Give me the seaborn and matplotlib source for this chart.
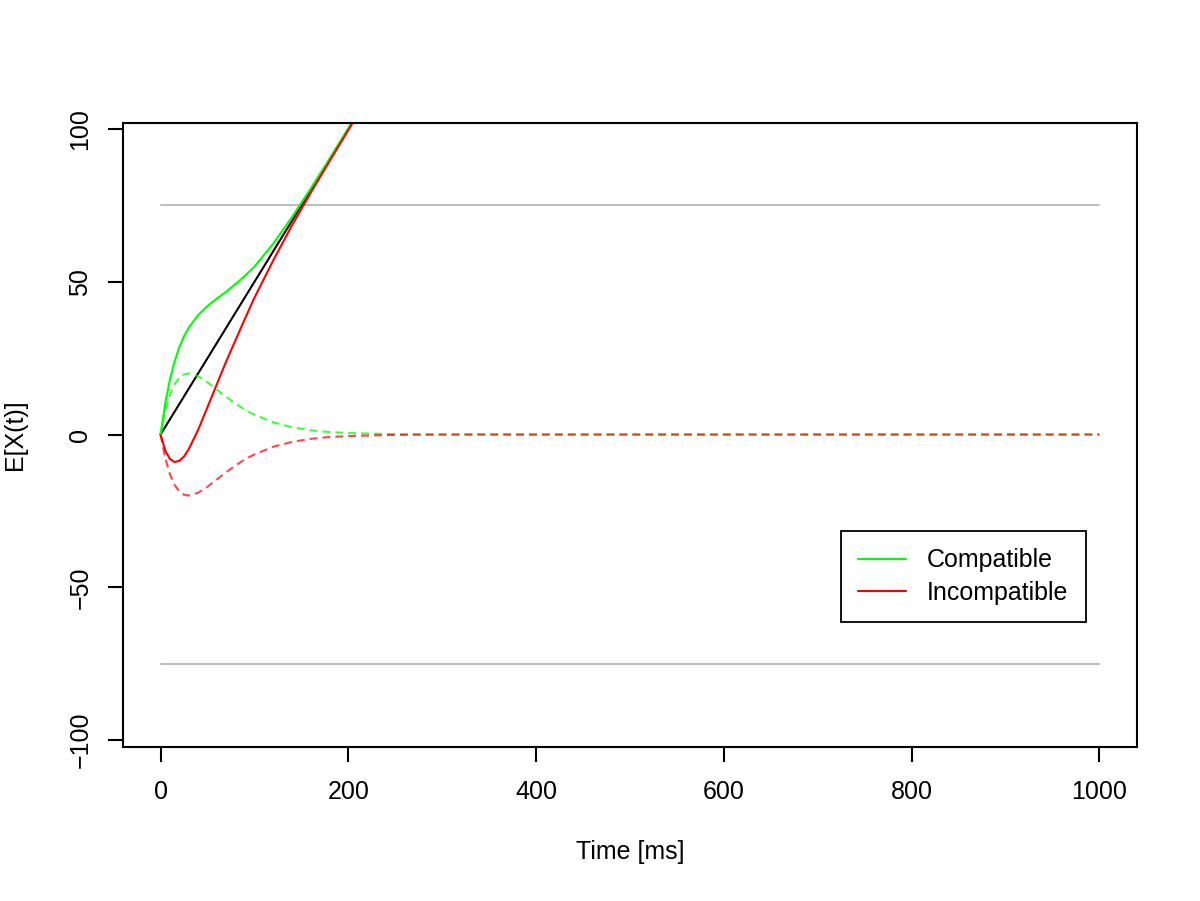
"""
Expected drift of the decision process (DMC-style plot):
controlled + automatic activation for compatible / incompatible trials.
"""

import matplotlib
matplotlib.use("Agg")
import matplotlib.pyplot as plt
import seaborn as sns

# ------------------------------------------------------------
# DATA
# ------------------------------------------------------------
TIME_MS = [0, 5, 10, 15, 20, 25, 30, 40, 50, 60, 70, 80, 90, 100,
           120, 140, 160, 180, 200, 250, 300, 400, 600, 800, 1000]

CONTROLLED = [0.0, 2.5, 5.0, 7.5, 10.0, 12.5, 15.0, 20.0, 25.0, 30.0, 35.0,
              40.0, 45.0, 50.0, 60.0, 70.0, 80.0, 90.0, 100.0, 125.0, 150.0,
              200.0, 300.0, 400.0, 500.0]

AUTO_COMP = [0.0, 7.7, 13.0, 16.5, 18.6, 19.7, 20.0, 19.1, 17.1, 14.7, 12.3,
             10.1, 8.1, 6.5, 4.0, 2.4, 1.4, 0.8, 0.5, 0.1, 0.0,
             0.0, 0.0, 0.0, 0.0]

AUTO_INCOMP = [0.0, -7.7, -13.0, -16.5, -18.6, -19.7, -20.0, -19.1, -17.1,
               -14.7, -12.3, -10.1, -8.1, -6.5, -4.0, -2.4, -1.4, -0.8, -0.5,
               -0.1, 0.0, 0.0, 0.0, 0.0, 0.0]

TOTAL_COMP = [0.0, 10.2, 18.0, 24.0, 28.6, 32.2, 35.0, 39.1, 42.1, 44.5, 46.8,
              49.3, 52.0, 55.0, 62.5, 71.2, 80.6, 90.3, 100.3, 125.1, 150.0,
              200.0, 300.0, 400.0, 500.0]

TOTAL_INCOMP = [0.0, -5.2, -8.0, -9.0, -8.6, -7.2, -4.8, 1.5, 9.0, 16.5, 24.0,
                31.0, 38.0, 44.8, 57.0, 68.5, 79.2, 89.5, 99.7, 124.9, 150.0,
                200.0, 300.0, 400.0, 500.0]

BOUNDARY_X = [0, 1000]
BOUNDARY = 75

X_TICKS = [0, 200, 400, 600, 800, 1000]
Y_TICKS = [-100, -50, 0, 50, 100]

GREEN = "#00FF00"
RED = "#FF0000"
GREY = "#BEBEBE"
DASH = (0, (3.8, 2.4))
LW = 1.5
FS = 18


def main():
    sns.set_theme(style="white")
    plt.rcParams["font.family"] = ["Liberation Sans", "DejaVu Sans"]
    plt.rcParams["axes.edgecolor"] = "black"
    plt.rcParams["axes.linewidth"] = 1.5
    plt.rcParams["text.color"] = "black"

    fig = plt.figure(figsize=(12, 9.01), dpi=100)
    ax = fig.add_axes([123 / 1200, 1 - 747 / 901, 1014 / 1200, 624 / 901])

    kw = dict(ax=ax, estimator=None, sort=False, linewidth=LW, legend=False)

    # decision boundaries
    for sign in (1, -1):
        sns.lineplot(x=BOUNDARY_X, y=[sign * BOUNDARY] * 2, color=GREY, **kw)

    # controlled process
    sns.lineplot(x=TIME_MS, y=CONTROLLED, color="black", **kw)

    # superimposed process
    sns.lineplot(x=TIME_MS, y=TOTAL_COMP, color=GREEN, **kw)
    sns.lineplot(x=TIME_MS, y=TOTAL_INCOMP, color=RED, **kw)

    # automatic process
    sns.lineplot(x=TIME_MS, y=AUTO_COMP, color=GREEN, linestyle=DASH,
                 alpha=0.75, **kw)
    sns.lineplot(x=TIME_MS, y=AUTO_INCOMP, color=RED, linestyle=DASH,
                 alpha=0.72, **kw)

    ax.set_xlim(-40, 1040)
    ax.set_ylim(-102.3, 102)
    ax.set_xticks(X_TICKS)
    ax.set_yticks(Y_TICKS)
    ax.set_xticklabels([str(v) for v in X_TICKS])
    ax.set_yticklabels(["\u2212" + str(-v) if v < 0 else str(v) for v in Y_TICKS],
                       rotation=90, va="center")
    ax.tick_params(axis="both", direction="out", length=11, width=1.5,
                   color="black", labelsize=FS, labelcolor="black",
                   bottom=True, left=True)
    ax.tick_params(axis="x", pad=13)
    ax.tick_params(axis="y", pad=11)

    ax.set_xlabel("Time [ms]", fontsize=FS, color="black", labelpad=26)
    ax.set_ylabel("E[X(t)]", fontsize=FS, color="black", labelpad=30)

    handles = [
        plt.Line2D([], [], color=GREEN, linewidth=LW),
        plt.Line2D([], [], color=RED, linewidth=LW),
    ]
    leg = ax.legend(handles, ["Compatible", "Incompatible"],
                    loc="lower right", bbox_to_anchor=(0.9497, 0.2003),
                    borderaxespad=0, fontsize=FS, frameon=True, fancybox=False,
                    framealpha=1, edgecolor="black", handlelength=1.9,
                    handletextpad=0.85, borderpad=0.7, labelspacing=0.33,
                    labelcolor="black")
    leg.get_frame().set_linewidth(1.3)

    fig.savefig("out.png", dpi=100, facecolor="white")
    plt.close(fig)


if __name__ == "__main__":
    main()
